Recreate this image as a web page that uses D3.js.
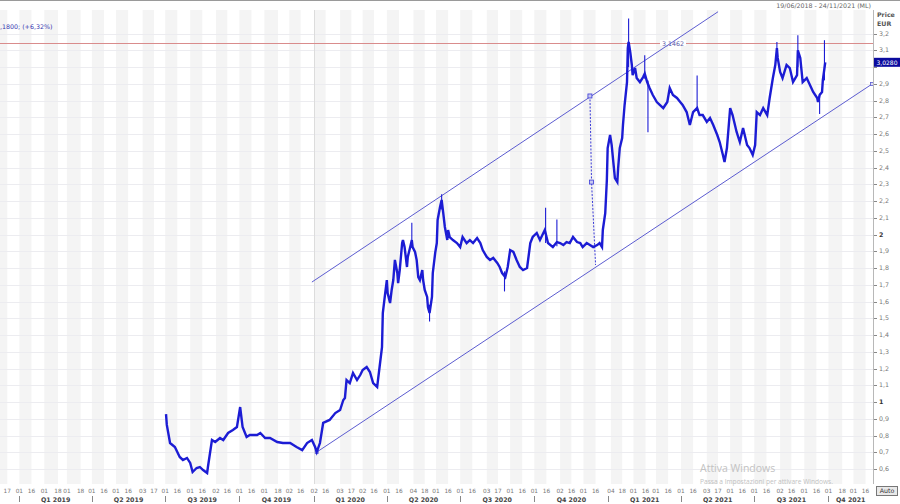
<!DOCTYPE html>
<html><head><meta charset="utf-8">
<script src="https://cdn.jsdelivr.net/npm/d3@7/dist/d3.min.js"></script>
<style>body{margin:0;background:#fff}svg{display:block;font-family:"DejaVu Sans",Verdana,sans-serif}</style>
</head><body><svg id="c" width="900" height="504"></svg>
<script>
// ---------- DATA ----------
const priceDates = ["2019-07-02","2019-07-03","2019-07-07","2019-07-13","2019-07-19","2019-07-23","2019-07-28","2019-08-01","2019-08-04","2019-08-09","2019-08-13","2019-08-17","2019-08-22","2019-08-23","2019-08-28","2019-09-01","2019-09-07","2019-09-11","2019-09-17","2019-09-23","2019-09-28","2019-10-02","2019-10-05","2019-10-10","2019-10-14","2019-10-23","2019-10-27","2019-11-02","2019-11-08","2019-11-17","2019-11-24","2019-12-03","2019-12-11","2019-12-18","2019-12-24","2019-12-30","2020-01-03","2020-01-05","2020-01-09","2020-01-13","2020-01-21","2020-01-28","2020-02-03","2020-02-07","2020-02-09","2020-02-11","2020-02-15","2020-02-19","2020-02-24","2020-02-28","2020-03-02","2020-03-07","2020-03-11","2020-03-15","2020-03-20","2020-03-21","2020-03-23","2020-03-26","2020-03-27","2020-03-30","2020-04-01","2020-04-02","2020-04-05","2020-04-07","2020-04-09","2020-04-11","2020-04-14","2020-04-15","2020-04-17","2020-04-20","2020-04-21","2020-04-23","2020-04-26","2020-04-27","2020-04-30","2020-05-02","2020-05-03","2020-05-06","2020-05-08","2020-05-10","2020-05-12","2020-05-15","2020-05-16","2020-05-18","2020-05-21","2020-05-22","2020-05-24","2020-05-27","2020-05-28","2020-05-31","2020-06-02","2020-06-03","2020-06-06","2020-06-08","2020-06-10","2020-06-12","2020-06-15","2020-06-16","2020-06-18","2020-06-22","2020-06-27","2020-07-01","2020-07-04","2020-07-09","2020-07-13","2020-07-17","2020-07-22","2020-07-26","2020-07-29","2020-08-03","2020-08-07","2020-08-11","2020-08-16","2020-08-19","2020-08-22","2020-08-26","2020-08-29","2020-09-01","2020-09-05","2020-09-09","2020-09-13","2020-09-17","2020-09-22","2020-09-26","2020-09-29","2020-10-04","2020-10-08","2020-10-14","2020-10-18","2020-10-24","2020-10-29","2020-11-02","2020-11-06","2020-11-10","2020-11-14","2020-11-18","2020-11-23","2020-11-27","2020-11-30","2020-12-05","2020-12-09","2020-12-13","2020-12-18","2020-12-21","2020-12-24","2020-12-25","2020-12-28","2020-12-30","2020-12-31","2021-01-03","2021-01-05","2021-01-07","2021-01-09","2021-01-12","2021-01-13","2021-01-15","2021-01-18","2021-01-19","2021-01-21","2021-01-24","2021-01-25","2021-01-26","2021-01-28","2021-01-30","2021-01-31","2021-02-03","2021-02-05","2021-02-09","2021-02-13","2021-02-15","2021-02-18","2021-02-21","2021-02-25","2021-03-02","2021-03-06","2021-03-10","2021-03-15","2021-03-18","2021-03-22","2021-03-27","2021-03-31","2021-04-03","2021-04-08","2021-04-12","2021-04-16","2021-04-21","2021-04-24","2021-04-28","2021-05-03","2021-05-07","2021-05-11","2021-05-16","2021-05-19","2021-05-23","2021-05-25","2021-05-28","2021-06-01","2021-06-04","2021-06-09","2021-06-13","2021-06-17","2021-06-22","2021-06-25","2021-06-29","2021-07-02","2021-07-04","2021-07-08","2021-07-12","2021-07-17","2021-07-20","2021-07-24","2021-07-27","2021-07-29","2021-07-30","2021-08-02","2021-08-05","2021-08-10","2021-08-14","2021-08-18","2021-08-23","2021-08-24","2021-08-27","2021-08-30","2021-09-04","2021-09-08","2021-09-12","2021-09-17","2021-09-18","2021-09-20","2021-09-23","2021-09-24","2021-09-27"];
const priceCloses = [0.928,0.863,0.755,0.731,0.672,0.654,0.666,0.636,0.582,0.606,0.612,0.594,0.576,0.612,0.773,0.761,0.785,0.773,0.815,0.833,0.851,0.970,0.851,0.791,0.803,0.803,0.815,0.785,0.785,0.761,0.755,0.755,0.731,0.713,0.755,0.773,0.731,0.701,0.755,0.875,0.893,0.934,0.952,1.012,1.024,1.131,1.113,1.173,1.131,1.161,1.191,1.209,1.179,1.113,1.090,1.131,1.209,1.328,1.531,1.651,1.728,1.651,1.591,1.669,1.728,1.848,1.770,1.710,1.788,1.949,1.967,1.925,1.806,1.866,1.925,1.967,1.925,1.896,1.848,1.746,1.728,1.788,1.728,1.669,1.627,1.567,1.531,1.627,1.770,1.890,1.949,2.087,2.164,2.206,2.128,2.045,1.967,2.027,1.985,1.967,1.949,1.925,1.985,1.949,1.967,1.949,1.979,1.949,1.907,1.866,1.848,1.860,1.830,1.806,1.770,1.746,1.806,1.907,1.896,1.848,1.806,1.788,1.800,1.949,1.985,2.009,1.967,2.027,1.949,1.925,1.955,1.949,1.937,1.955,1.949,1.985,1.955,1.949,1.925,1.949,1.937,1.925,1.937,1.949,1.925,2.027,2.128,2.325,2.516,2.594,2.534,2.433,2.337,2.313,2.397,2.516,2.576,2.654,2.773,2.910,3.113,3.150,3.090,3.012,2.952,2.994,2.934,2.910,2.940,2.960,2.910,2.875,2.833,2.791,2.773,2.755,2.791,2.875,2.833,2.815,2.791,2.773,2.731,2.654,2.731,2.755,2.713,2.713,2.672,2.696,2.654,2.594,2.552,2.475,2.433,2.516,2.755,2.713,2.612,2.552,2.636,2.534,2.516,2.475,2.534,2.731,2.713,2.755,2.713,2.815,2.934,3.012,3.113,3.054,2.970,2.934,3.012,2.994,2.910,2.952,3.100,3.054,2.910,2.934,2.893,2.851,2.815,2.791,2.833,2.851,2.922,3.028];

const wickDates = ["2020-05-02","2020-05-24","2020-06-08","2020-08-25","2020-10-15","2020-10-29","2021-01-26","2021-02-15","2021-02-19","2021-04-21","2021-07-29","2021-08-24","2021-09-20","2021-09-26"];
const wickLows  = [1.92,1.48,2.15,1.66,1.95,1.93,3.00,2.93,2.61,2.74,3.05,3.00,2.72,2.92];
const wickHighs = [2.07,1.58,2.24,1.78,2.16,2.09,3.29,3.07,2.92,2.95,3.15,3.19,2.84,3.16];

const dashDates  = ["2020-12-09","2020-12-11","2020-12-16"];
const dashValues = [2.827,2.313,1.818];

const upperChannelDates  = ["2019-12-30","2021-05-17"];
const upperChannelValues = [1.716,3.33];
const lowerChannelDates  = ["2020-01-05","2021-11-24"];
const lowerChannelValues = [0.701,2.898];

const resistanceLevel = 3.1462;
const lastPrice = 3.028;

const priceTicks = [0.6,0.7,0.8,0.9,1,1.1,1.2,1.3,1.4,1.5,1.6,1.7,1.8,1.9,2,2.1,2.2,2.3,2.4,2.5,2.6,2.7,2.8,2.9,3,3.1,3.2];

const halfMonthTicks = ["2018-12-03","2018-12-17","2019-01-01","2019-01-16","2019-02-01","2019-02-18","2019-03-01","2019-03-18","2019-04-01","2019-04-16","2019-05-01","2019-05-16","2019-06-03","2019-06-17","2019-07-01","2019-07-16","2019-08-01","2019-08-16","2019-09-02","2019-09-16","2019-10-01","2019-10-16","2019-11-01","2019-11-18","2019-12-02","2019-12-16","2020-01-02","2020-01-16","2020-02-03","2020-02-17","2020-03-02","2020-03-16","2020-04-01","2020-04-16","2020-05-04","2020-05-18","2020-06-01","2020-06-16","2020-07-01","2020-07-16","2020-08-03","2020-08-17","2020-09-01","2020-09-16","2020-10-01","2020-10-16","2020-11-02","2020-11-16","2020-12-01","2020-12-16","2021-01-04","2021-01-18","2021-02-01","2021-02-16","2021-03-01","2021-03-16","2021-04-01","2021-04-16","2021-05-03","2021-05-17","2021-06-01","2021-06-16","2021-07-01","2021-07-16","2021-08-02","2021-08-16","2021-09-01","2021-09-16","2021-10-01","2021-10-18","2021-11-01","2021-11-16"];

const quarterStarts = ["2019-01-01","2019-04-01","2019-07-01","2019-10-01","2020-01-01","2020-04-01","2020-07-01","2020-10-01","2021-01-01","2021-04-01","2021-07-01","2021-10-01","2022-01-01"];
const quarterLabels = ["Q1 2019","Q2 2019","Q3 2019","Q4 2019","Q1 2020","Q2 2020","Q3 2020","Q4 2020","Q1 2021","Q2 2021","Q3 2021","Q4 2021"];
const yearStarts = ["2020-01-02"];

// ---------- CHART ----------
const parse = d3.timeParse("%Y-%m-%d");
const svg = d3.select("#c");
const W = 900, H = 504;
const plotL = 0, plotR = 873, plotT = 10, plotB = 484;

const x = d3.scaleTime().domain([parse("2018-12-08"), parse("2021-11-24")]).range([0, 872]);
const y = d3.scaleLinear().domain([0.6, 3.2]).range([469, 33.5]);
const fmt = v => (Number.isInteger(v) ? String(v) : d3.format(".1f")(v).replace(".", ","));
const fmt4 = v => d3.format(".4f")(v).replace(".", ",");

svg.append("rect").attr("width", W).attr("height", H).attr("fill", "#fff");

svg.append("defs").append("clipPath").attr("id", "plot").append("rect")
  .attr("x", plotL).attr("y", plotT).attr("width", plotR - plotL).attr("height", plotB - plotT);

const plot = svg.append("g").attr("clip-path", "url(#plot)");

// stripes (first half of each month shaded)
const tickD = halfMonthTicks.map(parse);
for (let i = 0; i < tickD.length; i += 2) {
  const a = x(tickD[i]);
  const b = i + 1 < tickD.length ? x(tickD[i + 1]) : plotR;
  plot.append("rect").attr("x", a).attr("y", plotT).attr("width", b - a).attr("height", plotB - plotT)
    .attr("fill", "#f4f4f4");
}
// horizontal grid
plot.selectAll(".hg").data(priceTicks).join("line")
  .attr("x1", plotL).attr("x2", plotR)
  .attr("y1", d => Math.round(y(d)) + 0.5).attr("y2", d => Math.round(y(d)) + 0.5)
  .attr("stroke", "#ececf0").attr("stroke-width", 1);
// year separators
plot.selectAll(".yl").data(yearStarts.map(parse)).join("line")
  .attr("x1", d => Math.round(x(d)) + 0.5).attr("x2", d => Math.round(x(d)) + 0.5)
  .attr("y1", plotT).attr("y2", plotB).attr("stroke", "#dcdcdc");

// resistance line
const ry = Math.round(y(resistanceLevel)) + 0.5;
plot.append("line").attr("x1", plotL).attr("x2", plotR).attr("y1", ry).attr("y2", ry)
  .attr("stroke", "#d98c8c").attr("stroke-width", 1);
const lblX = 673;
plot.append("rect").attr("x", lblX - 13).attr("y", ry - 3.5).attr("width", 26).attr("height", 6).attr("fill", "#fff");
plot.append("text").attr("x", lblX).attr("y", ry + 2.2).attr("text-anchor", "middle")
  .attr("font-size", 6.3).attr("fill", "#5a5aa8").text(fmt4(resistanceLevel));

// channel lines
const chanColor = "#5c5cd0";
function chan(dates, vals, withEndMarkers) {
  const p0 = [x(parse(dates[0])), y(vals[0])], p1 = [x(parse(dates[1])), y(vals[1])];
  plot.append("line").attr("x1", p0[0]).attr("y1", p0[1]).attr("x2", p1[0]).attr("y2", p1[1])
    .attr("stroke", chanColor).attr("stroke-width", 1);
  if (withEndMarkers) {
    [p0, p1].forEach(p => plot.append("rect").attr("x", p[0] - 1.5).attr("y", p[1] - 1.5)
      .attr("width", 3).attr("height", 3).attr("fill", "#dcdcf4").attr("stroke", chanColor).attr("stroke-width", 0.8));
  }
}
chan(upperChannelDates, upperChannelValues, false);
chan(lowerChannelDates, lowerChannelValues, true);

// dashed spike
const dashPts = dashDates.map((d, i) => [x(parse(d)), y(dashValues[i])]);
plot.append("path").attr("d", d3.line()(dashPts)).attr("fill", "none")
  .attr("stroke", "#3a3ad8").attr("stroke-width", 1).attr("stroke-dasharray", "2,1.5");
dashPts.slice(0, 2).forEach(p => plot.append("rect").attr("x", p[0] - 2).attr("y", p[1] - 2)
  .attr("width", 4).attr("height", 4).attr("fill", "#c8c8f0").attr("stroke", "#3a3ad8").attr("stroke-width", 0.8));

// price series
const series = priceDates.map((d, i) => ({ d: parse(d), v: priceCloses[i] }));
const blue = "#1c1cd4";
plot.selectAll(".wk").data(wickDates.map((d, i) => ({ d: parse(d), lo: wickLows[i], hi: wickHighs[i] })))
  .join("line").attr("x1", d => x(d.d)).attr("x2", d => x(d.d))
  .attr("y1", d => y(d.lo)).attr("y2", d => y(d.hi)).attr("stroke", blue).attr("stroke-width", 1.1);
plot.append("path").datum(series)
  .attr("d", d3.line().x(d => x(d.d)).y(d => y(d.v)))
  .attr("fill", "none").attr("stroke", blue).attr("stroke-width", 2.4).attr("stroke-linejoin", "miter");

// ---------- frame / header ----------
svg.append("line").attr("x1", 0).attr("x2", W).attr("y1", 0.5).attr("y2", 0.5).attr("stroke", "#9a9a9a");
svg.append("text").attr("x", 871).attr("y", 8).attr("text-anchor", "end").attr("font-size", 6.3)
  .attr("fill", "#666").text("19/06/2018 - 24/11/2021 (ML)");
svg.append("text").attr("x", 0).attr("y", 29).attr("font-size", 6.3).attr("fill", "#3535b0")
  .text(",1800; (+6,32%)");

// right axis
svg.append("line").attr("x1", plotR + 0.5).attr("x2", plotR + 0.5).attr("y1", plotT).attr("y2", plotB)
  .attr("stroke", "#b8b8b8");
svg.append("text").attr("x", 877).attr("y", 16.5).attr("font-size", 6.3).attr("font-weight", "bold")
  .attr("fill", "#555").text("Price");
svg.append("text").attr("x", 877).attr("y", 25.5).attr("font-size", 6.3).attr("font-weight", "bold")
  .attr("fill", "#555").text("EUR");
const shownTicks = priceTicks.filter(v => Math.abs(v - lastPrice) > 0.04);
const ax = svg.append("g");
ax.selectAll("line").data(priceTicks).join("line")
  .attr("x1", plotR + 1).attr("x2", plotR + 4)
  .attr("y1", d => Math.round(y(d)) + 0.5).attr("y2", d => Math.round(y(d)) + 0.5).attr("stroke", "#888");
ax.selectAll("text").data(shownTicks).join("text")
  .attr("x", 879).attr("y", d => y(d) + 2.2).attr("font-size", 6.3)
  .attr("font-weight", d => Number.isInteger(d) ? "bold" : "normal")
  .attr("fill", d => Number.isInteger(d) ? "#333" : "#777").text(fmt);

// last price box
const ly = y(lastPrice);
svg.append("rect").attr("x", 874).attr("y", ly - 4.5).attr("width", 26).attr("height", 9).attr("fill", "#0b0b9e");
svg.append("text").attr("x", 887).attr("y", ly + 2.2).attr("text-anchor", "middle").attr("font-size", 6)
  .attr("fill", "#fff").text(fmt4(lastPrice));

// bottom axis
const bx = svg.append("g");
bx.selectAll("text").data(tickD.filter(d => x(d) > 3 && x(d) < 870)).join("text")
  .attr("x", d => x(d)).attr("y", 493).attr("text-anchor", "middle").attr("font-size", 5.8)
  .attr("fill", "#777").text(d3.timeFormat("%d"));
const qs = quarterStarts.map(parse);
qs.slice(0, -1).forEach((d, i) => {
  const xs = x(d);
  svg.append("line").attr("x1", Math.round(xs) + 0.5).attr("x2", Math.round(xs) + 0.5)
    .attr("y1", 496).attr("y2", 502).attr("stroke", "#888");
  const a = Math.max(xs, 0), b = Math.min(x(qs[i + 1]), plotR);
  svg.append("text").attr("x", (a + b) / 2).attr("y", 501.5).attr("text-anchor", "middle")
    .attr("font-size", 6.3).attr("font-weight", "bold").attr("fill", "#444").text(quarterLabels[i]);
});

// Auto button
svg.append("rect").attr("x", 876.5).attr("y", 486.5).attr("width", 21).attr("height", 9)
  .attr("fill", "#e9e9e9").attr("stroke", "#777");
svg.append("text").attr("x", 887).attr("y", 493.3).attr("text-anchor", "middle").attr("font-size", 6.3)
  .attr("fill", "#333").text("Auto");

// OS watermark
svg.append("text").attr("x", 700).attr("y", 472).attr("font-size", 10.5).attr("fill", "#c2c2c2")
  .attr("font-family", "'Open Sans','DejaVu Sans',sans-serif").text("Attiva Windows");
svg.append("text").attr("x", 700).attr("y", 484).attr("font-size", 6.6).attr("fill", "#c2c2c2")
  .attr("font-family", "'Open Sans','DejaVu Sans',sans-serif").text("Passa a Impostazioni per attivare Windows.");
</script></body></html>
